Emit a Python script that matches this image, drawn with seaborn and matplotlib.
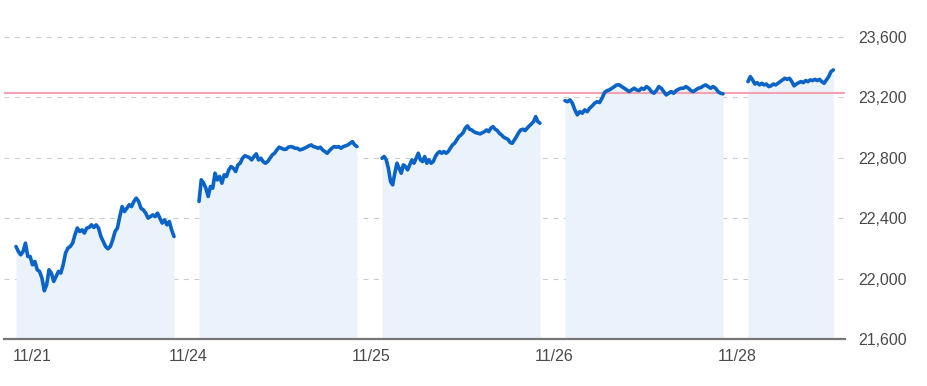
import numpy as np
import pandas as pd
import matplotlib
matplotlib.use("Agg")
import matplotlib.pyplot as plt
import seaborn as sns

# ---------------- data ----------------
day_labels = ["11/21", "11/24", "11/25", "11/26", "11/28"]

day1 = [22212, 22179, 22157, 22179, 22234, 22146, 22146, 22091, 22113, 22058,
        22047, 22003, 21919, 21959, 22058, 22036, 21981, 22014, 22047, 22036,
        22091, 22168, 22201, 22212, 22234, 22289, 22334, 22311, 22322, 22301,
        22334, 22338, 22355, 22338, 22355, 22334, 22278, 22245, 22212, 22197,
        22212, 22256, 22311, 22334, 22410, 22476, 22443, 22465, 22488, 22476,
        22510, 22532, 22510, 22465, 22454, 22433, 22400, 22410, 22421, 22410,
        22433, 22400, 22367, 22388, 22355, 22377, 22322, 22278]

day2 = [22510, 22653, 22631, 22598, 22543, 22609, 22598, 22697, 22653, 22675,
        22631, 22686, 22675, 22719, 22741, 22730, 22708, 22752, 22763, 22796,
        22812, 22807, 22800, 22785, 22807, 22825, 22785, 22796, 22774, 22763,
        22774, 22796, 22818, 22829, 22851, 22869, 22862, 22855, 22855, 22869,
        22873, 22869, 22862, 22862, 22851, 22855, 22862, 22869, 22878, 22884,
        22873, 22869, 22862, 22869, 22851, 22840, 22829, 22847, 22862, 22873,
        22869, 22873, 22862, 22873, 22878, 22884, 22895, 22906, 22884, 22873]

day3 = [22796, 22807, 22785, 22730, 22642, 22620, 22697, 22763, 22730, 22697,
        22752, 22741, 22719, 22752, 22785, 22763, 22796, 22829, 22785, 22774,
        22807, 22763, 22785, 22763, 22774, 22807, 22829, 22840, 22829, 22840,
        22829, 22840, 22862, 22884, 22895, 22917, 22939, 22950, 22965, 22995,
        23010, 22988, 22983, 22972, 22965, 22961, 22957, 22965, 22972, 22983,
        22972, 22995, 23005, 22988, 22979, 22961, 22950, 22935, 22928, 22921,
        22900, 22895, 22917, 22939, 22965, 22983, 22988, 22979, 22995, 23010,
        23023, 23038, 23071, 23038, 23028]

day4 = [23177, 23170, 23182, 23160, 23116, 23083, 23104, 23094, 23116, 23104,
        23127, 23142, 23160, 23170, 23164, 23193, 23230, 23243, 23248, 23259,
        23270, 23281, 23281, 23270, 23259, 23248, 23237, 23248, 23259, 23248,
        23243, 23259, 23252, 23270, 23259, 23237, 23226, 23243, 23270, 23259,
        23237, 23215, 23226, 23237, 23226, 23243, 23252, 23259, 23259, 23270,
        23259, 23243, 23237, 23248, 23259, 23263, 23274, 23281, 23270, 23259,
        23270, 23259, 23237, 23226, 23222]

day5 = [23303, 23336, 23314, 23287, 23296, 23281, 23292, 23281, 23287, 23270,
        23275, 23287, 23281, 23292, 23303, 23314, 23325, 23318, 23325, 23303,
        23275, 23287, 23296, 23303, 23296, 23310, 23303, 23314, 23310, 23318,
        23310, 23318, 23303, 23292, 23314, 23336, 23369, 23380]

day_series = [day1, day2, day3, day4, day5]
session_done = [1.0, 1.0, 1.0, 1.0, 0.54]   # fraction of the session elapsed
prev_close = 23225
y_ticks = [21600, 22000, 22400, 22800, 23200, 23600]

# ---------------- layout ----------------
W, H, DPI = 9.28, 3.86, 100
day_step = 183 / 158          # session width + gap, in session units
x_min, x_max = -0.076, 5.247

line_color = "#0a63c6"
fill_color = "#eaf2fb"
text_color = "#4a4a4a"

rows = []
for d, (vals, frac) in enumerate(zip(day_series, session_done)):
    xs = d * day_step + np.linspace(0, frac, len(vals))
    for xv, v in zip(xs, vals):
        rows.append({"x": xv, "value": v, "day": day_labels[d]})
df = pd.DataFrame(rows)

sns.set_style("white")
plt.rcParams["font.family"] = ["Liberation Sans", "DejaVu Sans"]

fig = plt.figure(figsize=(W, H), dpi=DPI)
ax = fig.add_axes([4 / 928, 1 - 339 / 386, (845 - 4) / 928, (339 - 36.7) / 386])

# fill under each session
for lab in day_labels:
    sub = df[df["day"] == lab]
    ax.fill_between(sub["x"], y_ticks[0], sub["value"], color=fill_color,
                    linewidth=0, zorder=1)

# grid lines
for yv in y_ticks[1:]:
    ax.axhline(yv, color="#cccccc", linewidth=0.8, linestyle=(0, (4.5, 5)),
               zorder=0.5)

# previous close
ax.axhline(prev_close, color="#f4a2b3", linewidth=1.5, zorder=2)

sns.lineplot(data=df, x="x", y="value", units="day", estimator=None,
             color=line_color, linewidth=2.6, ax=ax, zorder=3, legend=False)

ax.set_xlim(x_min, x_max)
ax.set_ylim(y_ticks[0], y_ticks[-1])

for s in ["top", "left", "right"]:
    ax.spines[s].set_visible(False)
ax.spines["bottom"].set_color("#777777")
ax.spines["bottom"].set_linewidth(1.6)

ax.yaxis.tick_right()
ax.set_yticks(y_ticks)
ax.set_yticklabels([f"{v:,}" for v in y_ticks])
ax.tick_params(axis="y", length=0, pad=9.5, labelsize=11.5, labelcolor=text_color)

tick_pos = [-0.02] + [d * day_step - 0.07 for d in range(1, len(day_labels))]
ax.set_xticks(tick_pos)
ax.set_xticklabels(day_labels)
ax.tick_params(axis="x", length=0, pad=7, labelsize=11.5, labelcolor=text_color)
ax.get_xticklabels()[0].set_horizontalalignment("left")

ax.set_xlabel("")
ax.set_ylabel("")
ax.grid(False)

fig.savefig("out.png", dpi=DPI)
